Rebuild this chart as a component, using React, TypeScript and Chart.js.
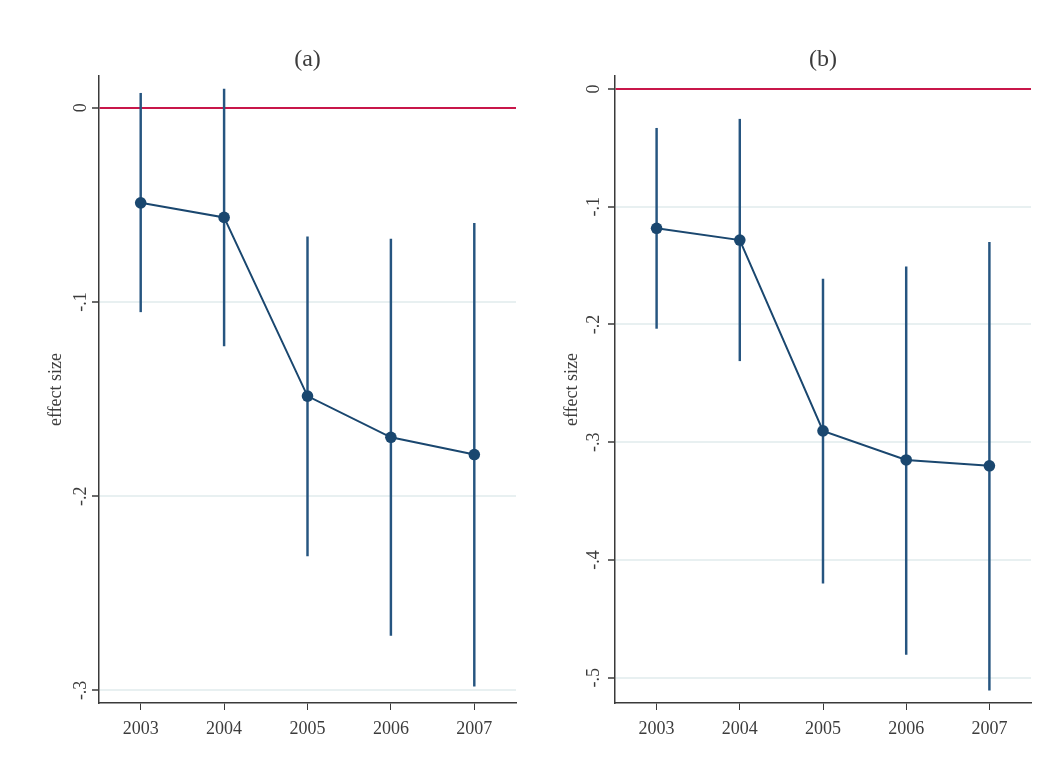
import { useEffect, useRef } from "react";
import { Chart, registerables } from "chart.js";

Chart.register(...registerables);

// data
const years = ["2003", "2004", "2005", "2006", "2007"];

const estA = [-0.049, -0.0565, -0.1485, -0.1697, -0.1786];
const lowA = [-0.1051, -0.1226, -0.2308, -0.2717, -0.2978];
const highA = [0.0074, 0.0096, -0.0665, -0.0676, -0.0596];

const estB = [-0.1183, -0.1283, -0.2903, -0.315, -0.32];
const lowB = [-0.2033, -0.2308, -0.4196, -0.4801, -0.5106];
const highB = [-0.0334, -0.0257, -0.1614, -0.151, -0.1302];

const ticksA = [0, -0.1, -0.2, -0.3];
const tickLabelsA = ["0", "-.1", "-.2", "-.3"];
const ticksB = [0, -0.1, -0.2, -0.3, -0.4, -0.5];
const tickLabelsB = ["0", "-.1", "-.2", "-.3", "-.4", "-.5"];

const NAVY = "#1a476f";
const CI = "#265580";
const RED = "#c8174a";
const GRID = "#e8f0f1";
const AXIS = "#3a3a3a";
const TEXT = "#3c3c3c";
const FONT = "'Liberation Serif', serif";

type PanelProps = {
  title: string;
  est: number[];
  low: number[];
  high: number[];
  ticks: number[];
  tickLabels: string[];
  yMin: number;
  yMax: number;
  left: number;
  width: number;
  axisW: number;
  rightPad: number;
  titlePad: number;
  tickPad: number;
};

function Panel(p: PanelProps) {
  const ref = useRef<HTMLCanvasElement>(null);

  useEffect(() => {
    if (!ref.current) return;
    const chart = new Chart(ref.current, {
      type: "bar",
      data: {
        labels: years,
        datasets: [
          {
            type: "line",
            data: p.est,
            borderColor: NAVY,
            backgroundColor: NAVY,
            borderWidth: 2,
            pointRadius: 5.8,
            pointBorderWidth: 0,
            pointBackgroundColor: NAVY,
            tension: 0,
            order: 0,
          } as any,
          {
            type: "bar",
            data: years.map((_, i) => [p.low[i], p.high[i]]),
            backgroundColor: CI,
            borderWidth: 0,
            barThickness: 1.8,
            order: 1,
          } as any,
        ],
      },
      options: {
        responsive: false,
        animation: false,
        layout: { padding: { left: 0, right: p.rightPad, top: 0, bottom: 0 } },
        plugins: {
          legend: { display: false },
          tooltip: { enabled: false },
          title: {
            display: true,
            text: p.title,
            fullSize: false,
            color: TEXT,
            font: { family: FONT, size: 24, weight: "normal" },
            padding: { top: 45.6, bottom: 1.6 },
          },
        },
        scales: {
          x: {
            type: "category",
            offset: true,
            grid: { display: true, drawOnChartArea: false, drawTicks: true, tickLength: 7, tickColor: AXIS, offset: false },
            border: { display: true, color: AXIS, width: 1.5 },
            ticks: { color: TEXT, font: { family: FONT, size: 18 }, padding: 8, maxRotation: 0 },
            afterFit: (s: any) => { s.height = 76; },
          },
          y: {
            type: "linear",
            min: p.yMin,
            max: p.yMax,
            afterBuildTicks: (s: any) => { s.ticks = p.ticks.map((v) => ({ value: v })); },
            afterFit: (s: any) => { s.width = p.axisW; },
            grid: {
              color: (c: any) => (c.tick && c.tick.value === 0 ? RED : GRID),
              lineWidth: 2,
              tickLength: 7,
              tickColor: AXIS,
              tickWidth: 1.5,
            },
            border: { display: true, color: AXIS, width: 1.5 },
            ticks: {
              color: TEXT,
              font: { family: FONT, size: 18 },
              minRotation: 90,
              maxRotation: 90,
              crossAlign: "center",
              padding: p.tickPad,
              callback: (v: any) => {
                const i = p.ticks.findIndex((t) => Math.abs(t - Number(v)) < 1e-9);
                return i >= 0 ? p.tickLabels[i] : "";
              },
            },
            title: {
              display: true,
              text: "effect size",
              color: TEXT,
              font: { family: FONT, size: 18 },
              padding: { top: p.titlePad, bottom: 0 },
            },
          },
        },
      } as any,
    });
    return () => chart.destroy();
  }, []);

  return (
    <div style={{ position: "absolute", left: p.left, top: 0, width: p.width, height: 779 }}>
      <canvas ref={ref} width={p.width} height={779} style={{ width: p.width, height: 779 }} />
    </div>
  );
}

export default function App() {
  return (
    <div style={{ position: "absolute", left: 0, top: 0, width: 1061, height: 779, background: "#fff" }}>
      <Panel
        title="(a)"
        est={estA}
        low={lowA}
        high={highA}
        ticks={ticksA}
        tickLabels={tickLabelsA}
        yMin={-0.3065}
        yMax={0.0163}
        left={0}
        width={530}
        axisW={99}
        rightPad={14}
        titlePad={45}
        tickPad={1}
      />
      <Panel
        title="(b)"
        est={estB}
        low={lowB}
        high={highB}
        ticks={ticksB}
        tickLabels={tickLabelsB}
        yMin={-0.5214}
        yMax={0.011}
        left={530}
        width={531}
        axisW={85}
        rightPad={30}
        titlePad={31}
        tickPad={4}
      />
    </div>
  );
}
